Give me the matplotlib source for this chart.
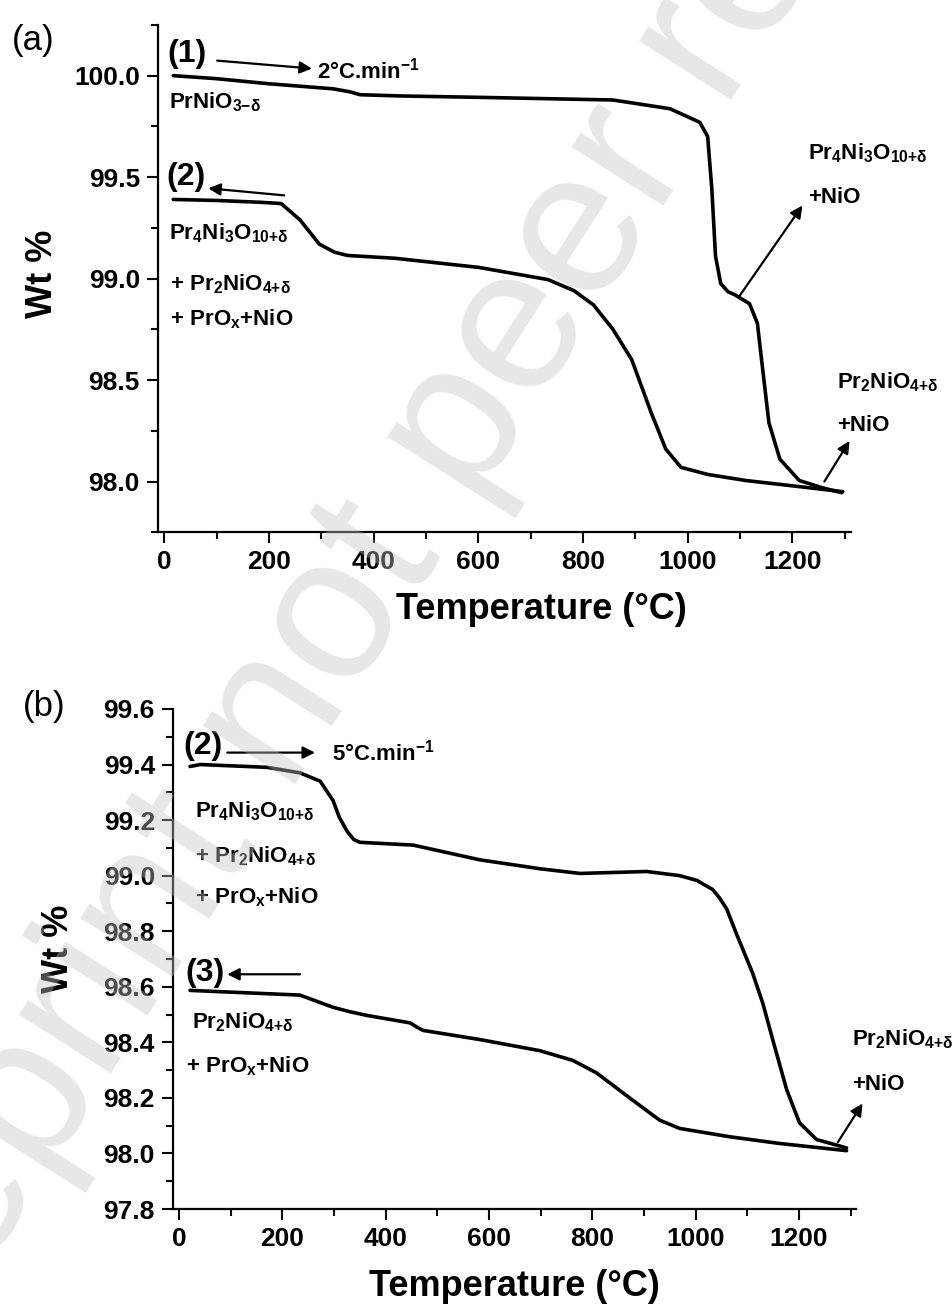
import matplotlib
matplotlib.use("Agg")
import matplotlib.pyplot as plt
from matplotlib import ticker

# ——— fonts ———
plt.rcParams['font.family'] = ['Liberation Sans', 'DejaVu Sans']
plt.rcParams['font.weight'] = 'bold'
plt.rcParams['axes.labelweight'] = 'bold'
plt.rcParams['mathtext.fontset'] = 'custom'
plt.rcParams['mathtext.rm'] = 'Liberation Sans:bold'
plt.rcParams['mathtext.bf'] = 'Liberation Sans:bold'
plt.rcParams['mathtext.it'] = 'Liberation Sans:bold'
plt.rcParams['mathtext.default'] = 'rm'

# ——— data (a): 2 °C/min ———
t_a1 = [17, 100, 200, 323, 355, 374, 450, 603, 857, 966, 1023, 1038, 1046, 1053, 1063,
        1077, 1090, 1118, 1133, 1143, 1155, 1176, 1213, 1256, 1294]
w_a1 = [100.0, 99.985, 99.96, 99.935, 99.92, 99.906, 99.9, 99.893, 99.88, 99.837, 99.77,
        99.70, 99.44, 99.11, 98.975, 98.935, 98.92, 98.876, 98.78, 98.555, 98.29, 98.11,
        98.005, 97.97, 97.945]

t_a2 = [17, 100, 183, 223, 259, 296, 325, 350, 441, 601, 733, 783, 820, 857, 893, 930,
        958, 987, 1038, 1111, 1213, 1296]
w_a2 = [99.39, 99.385, 99.376, 99.37, 99.29, 99.17, 99.13, 99.114, 99.10, 99.055, 98.995,
        98.94, 98.87, 98.75, 98.60, 98.34, 98.16, 98.07, 98.035, 98.005, 97.975, 97.95]

# ——— data (b): 5 °C/min ———
t_b2 = [21, 41, 170, 234, 273, 298, 310, 325, 338, 350, 453, 582, 698, 776, 905, 969,
        1002, 1033, 1046, 1060, 1079, 1110, 1130, 1149, 1176, 1201, 1234, 1292]
w_b2 = [99.393, 99.40, 99.39, 99.37, 99.34, 99.27, 99.21, 99.16, 99.13, 99.12, 99.11,
        99.057, 99.025, 99.008, 99.015, 99.0, 98.983, 98.95, 98.92, 98.88, 98.79, 98.65,
        98.54, 98.41, 98.23, 98.11, 98.05, 98.02]

t_b3 = [21, 234, 298, 331, 363, 447, 460, 472, 582, 698, 762, 808, 872, 930, 969, 1066,
        1162, 1292]
w_b3 = [98.587, 98.57, 98.526, 98.51, 98.497, 98.47, 98.455, 98.443, 98.41, 98.37, 98.335,
        98.29, 98.2, 98.12, 98.09, 98.06, 98.036, 98.01]

xticks = [0, 200, 400, 600, 800, 1000, 1200]

fig = plt.figure(figsize=(9.52, 13.11), dpi=100)
ax1 = fig.add_axes([0.166, 0.594, 0.728, 0.387])
ax2 = fig.add_axes([0.1817, 0.0778, 0.7173, 0.3814])

lw = 2.6
for ax, (tx, wy) in ((ax1, (t_a1, w_a1)), (ax1, (t_a2, w_a2)),
                     (ax2, (t_b2, w_b2)), (ax2, (t_b3, w_b3))):
    ax.plot(tx, wy, color='k', lw=lw, solid_joinstyle='round', solid_capstyle='round')

ax1.set_xlim(-12, 1312)
ax1.set_ylim(97.75, 100.25)
ax2.set_xlim(-12, 1310)
ax2.set_ylim(97.8, 99.6)

ax1.yaxis.set_major_locator(ticker.MultipleLocator(0.5))
ax1.yaxis.set_minor_locator(ticker.MultipleLocator(0.25))
ax2.yaxis.set_major_locator(ticker.MultipleLocator(0.2))
ax2.yaxis.set_minor_locator(ticker.MultipleLocator(0.1))

for ax in (ax1, ax2):
    ax.patch.set_alpha(0)
    ax.spines['top'].set_visible(False)
    ax.spines['right'].set_visible(False)
    for s in ('left', 'bottom'):
        ax.spines[s].set_linewidth(1.6)
    ax.set_xticks(xticks)
    ax.xaxis.set_minor_locator(ticker.MultipleLocator(100))
    ax.yaxis.set_major_formatter(ticker.FormatStrFormatter('%.1f'))
    ax.tick_params(which='major', direction='out', length=8, width=1.5, labelsize=19, pad=5)
    ax.tick_params(which='minor', direction='out', length=5, width=1.5)
    ax.set_xlabel('Temperature (°C)', fontsize=26, fontweight='bold')
    ax.set_ylabel('Wt %', fontsize=26, fontweight='bold')

ax1.xaxis.set_label_coords(0.553, -0.118)
ax1.yaxis.set_label_coords(-0.141, 0.51)
ax2.xaxis.set_label_coords(0.5, -0.12)
ax2.yaxis.set_label_coords(-0.142, 0.52)

fig.text(12 / 952, 1 - 24 / 1311, '(a)', fontsize=25, fontweight='normal', va='top', ha='left')
fig.text(23 / 952, 1 - 690 / 1311, '(b)', fontsize=25, fontweight='normal', va='top', ha='left')

fs = 16
arr = dict(arrowstyle='-|>', color='k', lw=1.6, mutation_scale=18, shrinkA=0, shrinkB=0)
phase_43 = r'$Pr_4Ni_3O_{10{+}δ}$'
phase_21 = r'$Pr_2NiO_{4{+}δ}$'

# ——— annotations (a) ———
ax1.text(6, 100.109, '(1)', fontsize=23, va='center', ha='left')
ax1.annotate('', xy=(282, 100.035), xytext=(101, 100.074), arrowprops=arr)
ax1.text(292, 99.985, '2°C.min$^{-1}$', fontsize=fs, va='baseline')
ax1.text(8, 99.837, r'$PrNiO_{3{-}δ}$', fontsize=fs, va='baseline')
ax1.text(3, 99.5, '(2)', fontsize=23, va='center', ha='left')
ax1.annotate('', xy=(84, 99.445), xytext=(229, 99.41), arrowprops=arr)
ax1.text(8, 99.193, phase_43, fontsize=fs, va='baseline')
ax1.text(11, 98.94, r'$+\ Pr_2NiO_{4{+}δ}$', fontsize=fs, va='baseline')
ax1.text(11, 98.767, r'$+\ PrO_x{+}NiO$', fontsize=fs, va='baseline')
ax1.text(1229, 99.589, phase_43, fontsize=fs, va='baseline')
ax1.text(1229, 99.371, '+NiO', fontsize=fs, va='baseline')
ax1.annotate('', xy=(1219, 99.36), xytext=(1099, 98.915), arrowprops=arr)
ax1.text(1286, 98.46, phase_21, fontsize=fs, va='baseline')
ax1.text(1286, 98.25, '+NiO', fontsize=fs, va='baseline')
ax1.annotate('', xy=(1309, 98.2), xytext=(1261, 98.0), arrowprops=arr, annotation_clip=False)

# ——— annotations (b) ———
ax2.text(8, 99.468, '(2)', fontsize=23, va='center', ha='left')
ax2.annotate('', xy=(263, 99.443), xytext=(93, 99.443), arrowprops=arr)
ax2.text(296, 99.414, '5°C.min$^{-1}$', fontsize=fs, va='baseline')
ax2.text(31, 99.209, phase_43, fontsize=fs, va='baseline')
ax2.text(31, 99.047, r'$+\ Pr_2NiO_{4{+}δ}$', fontsize=fs, va='baseline')
ax2.text(31, 98.9, r'$+\ PrO_x{+}NiO$', fontsize=fs, va='baseline')
ax2.text(12, 98.648, '(3)', fontsize=23, va='center', ha='left')
ax2.annotate('', xy=(93, 98.645), xytext=(234, 98.645), arrowprops=arr)
ax2.text(25, 98.45, phase_21, fontsize=fs, va='baseline')
ax2.text(13, 98.292, r'$+\ PrO_x{+}NiO$', fontsize=fs, va='baseline')
ax2.text(1302, 98.39, phase_21, fontsize=fs, va='baseline')
ax2.text(1302, 98.227, '+NiO', fontsize=fs, va='baseline')
ax2.annotate('', xy=(1323, 98.18), xytext=(1275, 98.04), arrowprops=arr, annotation_clip=False)

# ——— watermark ———
fig.text(-129 / 952, 1 - 1451 / 1311, 'Preprint not peer reviewed', fontsize=148,
         fontweight='normal', color=(0.77, 0.77, 0.77), alpha=0.4, rotation=57.5,
         ha='left', va='baseline', rotation_mode='anchor', zorder=10)

fig.savefig('out.png', dpi=100)
